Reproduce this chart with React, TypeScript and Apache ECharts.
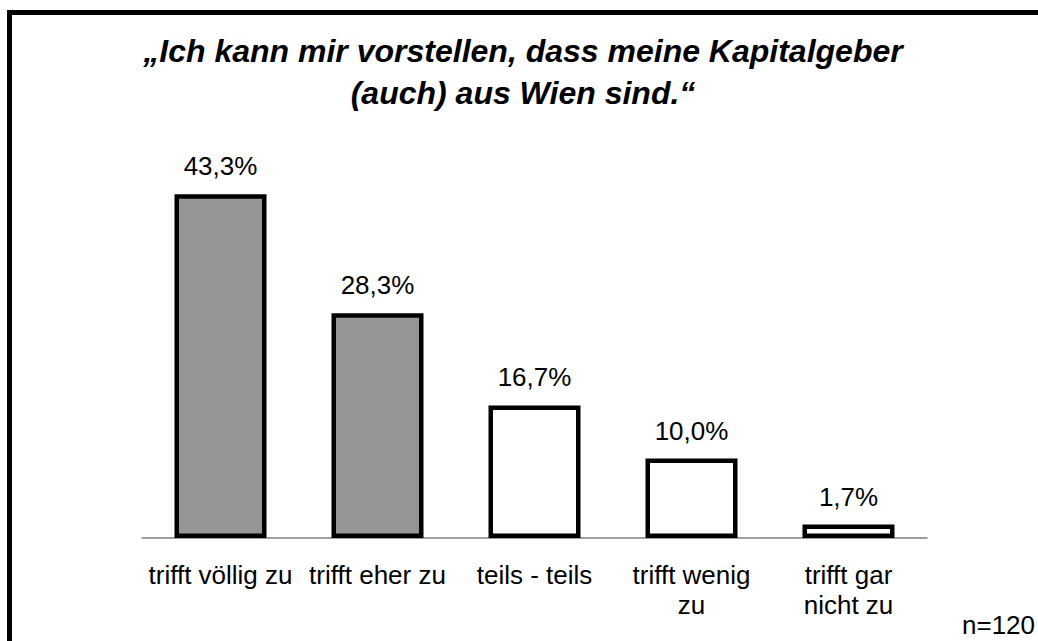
import React, { useEffect, useRef } from "react";
import * as echarts from "echarts";

const categories = [
  "trifft völlig zu",
  "trifft eher zu",
  "teils - teils",
  "trifft wenig\nzu",
  "trifft gar\nnicht zu",
];
const values = [43.3, 28.3, 16.7, 10.0, 1.7];
const agreeCount = 2; // first two answers highlighted in gray
const titleText = "„Ich kann mir vorstellen, dass meine Kapitalgeber\n(auch) aus Wien sind.“";
const sampleNote = "n=120";

const FONT = "'Liberation Sans', Arial, Helvetica, sans-serif";

export default function App() {
  const ref = useRef<HTMLDivElement>(null);
  useEffect(() => {
    if (!ref.current) return;
    const chart = echarts.init(ref.current, null, { renderer: "svg" });
    chart.setOption({
      animation: false,
      backgroundColor: "#ffffff",
      textStyle: { fontFamily: FONT },
      title: {
        text: titleText,
        left: 518,
        top: 25,
        textAlign: "center",
        textStyle: {
          fontFamily: FONT,
          fontSize: 32,
          fontWeight: "bold",
          fontStyle: "italic",
          color: "#000",
          lineHeight: 42,
        },
      },
      grid: { left: 142, right: 111, top: 141, bottom: 103 },
      xAxis: {
        type: "category",
        data: categories,
        axisLine: { show: true, lineStyle: { color: "#808080", width: 1.5 } },
        axisTick: { show: false },
        axisLabel: {
          interval: 0,
          margin: 22,
          fontFamily: FONT,
          fontSize: 26,
          lineHeight: 30,
          color: "#000",
        },
      },
      yAxis: {
        type: "value",
        min: 0,
        max: 50,
        show: false,
        splitLine: { show: false },
      },
      series: [
        {
          type: "bar",
          barWidth: 92,
          data: values.map((v, i) => ({
            value: v,
            itemStyle: { color: i < agreeCount ? "#969696" : "#ffffff" },
          })),
          itemStyle: { borderColor: "#000", borderWidth: 4.5 },
          label: {
            show: true,
            position: "top",
            distance: 15,
            fontFamily: FONT,
            fontSize: 26,
            color: "#000",
            formatter: (p: any) => p.value.toFixed(1).replace(".", ",") + "%",
          },
        },
      ],
      graphic: [
        {
          type: "rect",
          shape: { x: 9.5, y: 12.5, width: 1100, height: 700 },
          style: { fill: "none", stroke: "#000", lineWidth: 5 },
          silent: true,
        },
        {
          type: "text",
          x: 962,
          y: 625,
          style: {
            text: sampleNote,
            font: `26px ${FONT}`,
            fill: "#000",
            textVerticalAlign: "middle",
          },
        },
      ],
    });
    return () => chart.dispose();
  }, []);
  return (
    <div
      ref={ref}
      style={{ position: "absolute", left: 0, top: 0, width: 1038, height: 641 }}
    />
  );
}
